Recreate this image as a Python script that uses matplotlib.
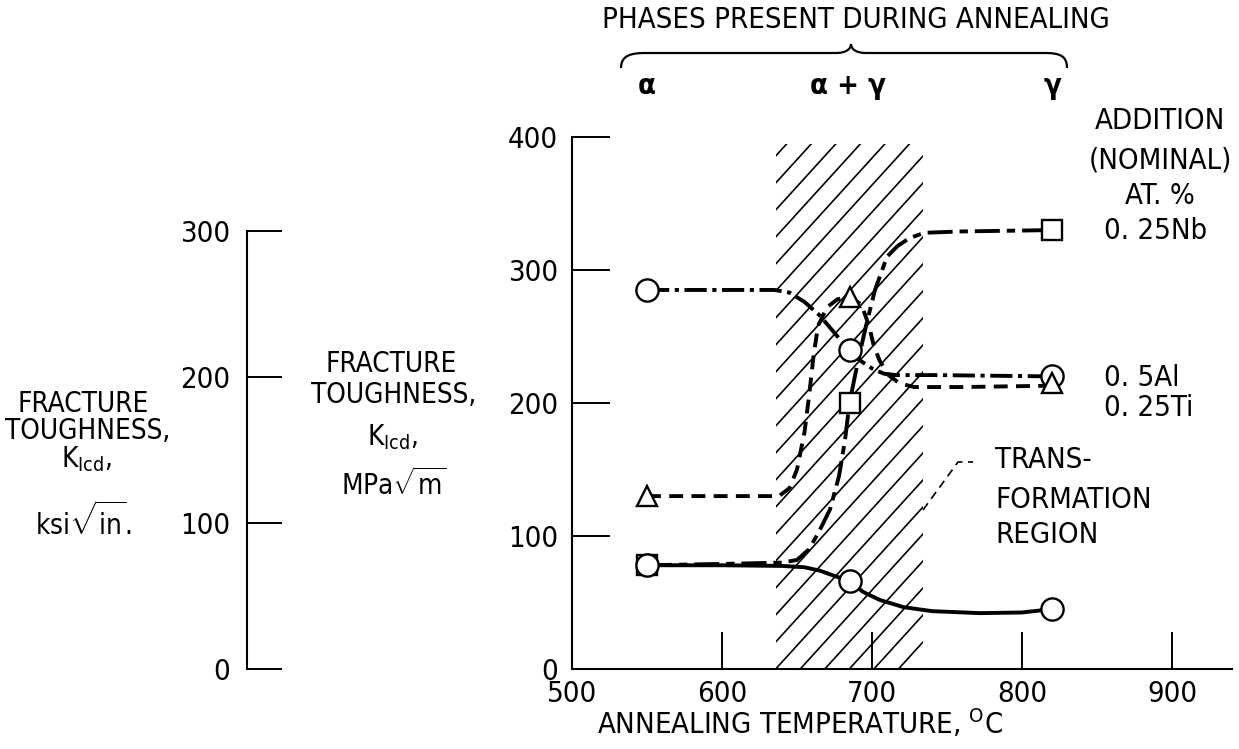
import numpy as np
import matplotlib
matplotlib.use('Agg')
import matplotlib.pyplot as plt
from matplotlib.patches import Rectangle, PathPatch
from matplotlib.path import Path
from matplotlib.lines import Line2D

plt.rcParams['font.family'] = ['DejaVu Sans']
plt.rcParams['font.stretch'] = 'condensed'
plt.rcParams['font.size'] = 21
plt.rcParams['mathtext.fontset'] = 'custom'
plt.rcParams['mathtext.rm'] = 'DejaVu Sans:stretch=condensed'
plt.rcParams['mathtext.it'] = 'DejaVu Sans:stretch=condensed'
plt.rcParams['lines.scale_dashes'] = False

W, H = 1239, 749
MPA_PER_KSI = 1.0988

# measured points (annealing temperature, K_Icd in MPa*sqrt(m))
temps = [550, 685, 820]
base_k = [78, 66, 45]
nb_k = [78, 200, 330]
al_k = [285, 240, 220]
ti_k = [130, 280, 215]

# faired curves through the points
base_cx = [550, 600, 640, 655, 665, 675, 685, 694, 705, 721, 740, 772, 800, 820]
base_cy = [78, 78, 77.5, 76.5, 74, 70, 66, 58, 52, 46.5, 43.5, 42, 42.5, 45]

nb_cx = [550, 600, 640, 650, 658, 665, 672, 678, 682, 685, 690, 696, 702, 710, 717, 725, 735, 760, 820]
nb_cy = [78, 79, 80, 82, 90, 104, 120, 145, 172, 200, 228, 258, 285, 310, 318, 324, 328, 329, 330]

al_cx = [550, 600, 635, 645, 655, 665, 677, 685, 692, 700, 708, 716, 740, 820]
al_cy = [285, 285, 285, 283, 276, 266, 250, 240, 232, 226, 222, 221, 221, 220]

ti_cx = [550, 600, 638, 645, 650, 655, 658, 661, 664, 670, 677, 685, 693, 698, 701, 705, 711, 718, 728, 760, 820]
ti_cy = [130, 130, 130, 136, 150, 178, 205, 235, 258, 272, 278, 280, 274, 258, 244, 232, 221, 215, 212, 212, 213]

# transformation (alpha + gamma) region
region_lo, region_hi, region_top = 636, 734, 395


def fx(px):
    return px / W


def fy(py):
    return 1 - py / H


fig = plt.figure(figsize=(W / 100, H / 100), dpi=100)
ax = fig.add_axes([fx(572), fy(669), (1232 - 572) / W, (669 - 137) / H])
ax.set_xlim(500, 940)
ax.set_ylim(0, 400)
for s in ['top', 'right']:
    ax.spines[s].set_visible(False)
for s in ['left', 'bottom']:
    ax.spines[s].set_linewidth(1.5)
ax.set_xticks([500, 600, 700, 800, 900])
ax.set_yticks([0, 100, 200, 300, 400])
ax.tick_params(direction='in', length=27, width=1.4, labelsize=21)
ax.tick_params(axis='y', pad=10)
ax.tick_params(axis='x', pad=8)

# hatching of the transformation region
rect = Rectangle((region_lo, 0), region_hi - region_lo, region_top,
                 fill=False, lw=0)
ax.add_patch(rect)
slope = 1.24
span = region_hi - region_lo
for y0 in np.arange(-slope * span, region_top, 20.3):
    ln, = ax.plot([region_lo, region_hi], [y0, y0 + slope * span],
                  color='k', lw=1.2, zorder=1)
    ln.set_clip_path(rect)

lw = 2.8
ax.plot(base_cx, base_cy, color='k', lw=lw, zorder=3)
ax.plot(nb_cx, nb_cy, color='k', lw=lw, ls=(0, (18, 5, 6, 5)), zorder=3)
ax.plot(al_cx, al_cy, color='k', lw=lw, ls=(0, (16, 4, 3, 4)), zorder=3)
ax.plot(ti_cx, ti_cy, color='k', lw=lw, ls=(0, (10, 6)), zorder=3)

mk = dict(ls='none', mfc='white', mec='k', mew=1.7, zorder=4)
ax.plot(temps, nb_k, marker='s', ms=14.5, **mk)
ax.plot(temps, base_k, marker='o', ms=16, **mk)
ax.plot(temps, al_k, marker='o', ms=16, **mk)
ax.plot(temps, ti_k, marker='^', ms=15, **mk)

# ksi*sqrt(in) scale on the far left
ax2 = fig.add_axes([fx(247), fy(669), 0.05, (669 - 137) / H])
ax2.set_ylim(0, 400 / MPA_PER_KSI)
ax2.patch.set_visible(False)
for s in ['top', 'right', 'bottom']:
    ax2.spines[s].set_visible(False)
ax2.spines['left'].set_bounds(0, 300)
ax2.spines['left'].set_linewidth(1.5)
ax2.set_xticks([])
ax2.set_yticks([0, 100, 200, 300])
ax2.tick_params(direction='in', length=25, width=1.4, labelsize=21, pad=12)

# axis titles
fig.text(fx(800), fy(734), 'ANNEALING TEMPERATURE, $^{\\mathrm{O}}$C',
         ha='center', va='baseline')

left_lines = [('FRACTURE', 83, 412), ('TOUGHNESS,', 88, 439),
              (r'K$_{\mathrm{Icd}}$,', 86, 467), (r'ksi$\sqrt{\mathrm{in}}$.', 84, 535)]
mid_lines = [('FRACTURE', 391, 372), ('TOUGHNESS,', 394, 403),
             (r'K$_{\mathrm{Icd}}$,', 392, 445), (r'MPa$\sqrt{\mathrm{m}}$', 394, 495)]
for txt, x, y in left_lines + mid_lines:
    fig.text(fx(x), fy(y), txt, ha='center', va='baseline', fontsize=20)

# phases header with brace
fig.text(fx(856), fy(20), 'PHASES PRESENT DURING ANNEALING', ha='center', va='center')
brace_px = [(621, 68), (621, 56), (630, 53), (645, 53),
            (836, 53), (846, 53), (851, 49), (851, 44),
            (851, 49), (856, 53), (866, 53),
            (1045, 53), (1060, 53), (1067, 56), (1067, 68)]
codes = [Path.MOVETO, Path.CURVE4, Path.CURVE4, Path.CURVE4,
         Path.LINETO, Path.CURVE4, Path.CURVE4, Path.CURVE4,
         Path.CURVE4, Path.CURVE4, Path.CURVE4,
         Path.LINETO, Path.CURVE4, Path.CURVE4, Path.CURVE4]
brace = Path([(fx(x), fy(y)) for x, y in brace_px], codes)
fig.patches.append(PathPatch(brace, fill=False, lw=1.6, ec='k',
                             transform=fig.transFigure, figure=fig))
for txt, x in [('α', 647), ('α + γ', 848), ('γ', 1053)]:
    fig.text(fx(x), fy(86), txt, ha='center', va='center', fontweight='bold')

# addition key
for txt, y in [('ADDITION', 121), ('(NOMINAL)', 161), ('AT. %', 196)]:
    fig.text(fx(1160), fy(y), txt, ha='center', va='center')
for txt, y in [('0. 25Nb', 231), ('0. 5Al', 378), ('0. 25Ti', 408)]:
    fig.text(fx(1104), fy(y), txt, ha='left', va='center')

# transformation region callout
for txt, y in [('TRANS-', 460), ('FORMATION', 500), ('REGION', 535)]:
    fig.text(fx(995), fy(y), txt, ha='left', va='center')
fig.lines.append(Line2D([fx(923), fx(958), fx(973)], [fy(510), fy(462), fy(462)],
                        color='k', lw=1.2, ls=(0, (6, 4)),
                        transform=fig.transFigure, figure=fig))

fig.savefig('out.png', dpi=100)
